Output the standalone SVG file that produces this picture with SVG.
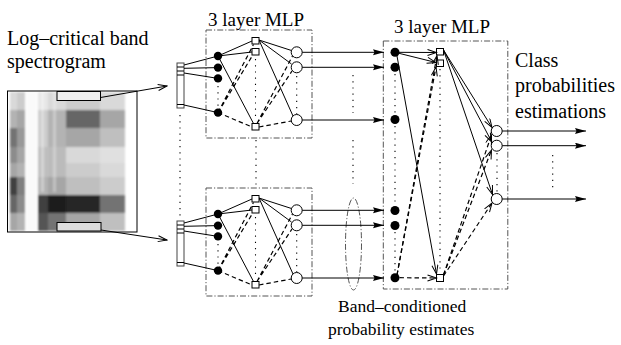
<svg xmlns="http://www.w3.org/2000/svg" xmlns:xlink="http://www.w3.org/1999/xlink" width="621" height="345" viewBox="0 0 621 345">
  <style>
    text { font-family: "Liberation Serif", "Times New Roman", serif; fill: #000; }
    .big { font-size: 20px; }
    .title { font-size: 19px; }
    .small { font-size: 17.5px; }
    .frame { fill: none; stroke: #555; stroke-width: 1; stroke-dasharray: 6 2 1.2 2; }
    .ln { fill: none; stroke: #000; stroke-width: 1; }
    .dsh { fill: none; stroke: #000; stroke-width: 1.2; stroke-dasharray: 4.5 3; }
    .dot { fill: none; stroke: #000; stroke-width: 1.1; stroke-dasharray: 1.2 5; }
    .inp { fill: #000; }
    .hid { fill: #fff; stroke: #000; stroke-width: 1; }
    .out { fill: #fff; stroke: #000; stroke-width: 1; }
    .bar { fill: #fff; stroke: #444; stroke-width: 1; }
  </style>
  <defs>
    <marker id="solidHead" markerUnits="userSpaceOnUse" markerWidth="12" markerHeight="7" refX="11" refY="3" orient="auto">
      <path d="M0,0 L11,3 L0,6 L1.5,3 z" fill="#000"/>
    </marker>
    <marker id="openHead" markerUnits="userSpaceOnUse" markerWidth="11" markerHeight="8" refX="9.5" refY="3.5" orient="auto">
      <path d="M0.5,0.5 L9.5,3.5 L0.5,6.5" fill="none" stroke="#000" stroke-width="1"/>
    </marker>
    <clipPath id="specClip">
      <rect x="8" y="91.5" width="128.5" height="140"/>
    </clipPath>
    <filter id="soft" x="-5%" y="-5%" width="110%" height="110%">
      <feGaussianBlur stdDeviation="1.3"/>
    </filter>
    <!-- first-stage network: one per frequency band -->
    <g id="bandNet">
      <rect class="frame" x="206" y="30" width="106" height="108"/>
      <rect class="bar" x="177" y="63" width="7" height="45"/>
      <path class="ln" d="M177,67H184M177,71H184M177,75H184M177,104.5H184" stroke="#444"/>
      <path class="ln" d="M184,65L218,56M184,68.3L218,67.6M184,73L218,78.4M184,105L218,112.6"/>
      <path class="ln" d="M218,56L252,41M218,56L252,52M218,56L253.5,123.5"/>
      <path class="dsh" d="M218,112.6L253.5,44.5M218,112.6L252.5,55.5M218,112.6L252,127"/>
      <path class="ln" d="M259,40L291.5,50.5M259,40L291.5,64M259,40L293,116"/>
      <path class="dsh" d="M257,123.5L292.5,56M257,123.5L292,71M259,127L291.3,121"/>
      <path class="dot" d="M218,86V106M255.5,59V121M296.7,76V114"/>
      <circle class="inp" cx="218" cy="56" r="4.2"/>
      <circle class="inp" cx="218" cy="67.6" r="4.2"/>
      <circle class="inp" cx="218" cy="78.4" r="4.2"/>
      <circle class="inp" cx="218" cy="112.6" r="4.2"/>
      <rect class="hid" x="252" y="37.5" width="7" height="6.5"/>
      <rect class="hid" x="252" y="48.5" width="7" height="6.5"/>
      <rect class="hid" x="252" y="123.5" width="7" height="6.5"/>
      <circle class="out" cx="296.7" cy="52.3" r="5.5"/>
      <circle class="out" cx="296.7" cy="67.3" r="5.5"/>
      <circle class="out" cx="296.7" cy="120" r="5.5"/>
    </g>
  </defs>

  <!-- labels -->
  <text class="big" x="7" y="45">Log–critical band</text>
  <text class="big" x="7" y="68">spectrogram</text>
  <text class="title" x="208" y="26">3 layer MLP</text>
  <text class="title" x="394" y="33">3 layer MLP</text>
  <text class="big" x="515" y="67">Class</text>
  <text class="big" x="515" y="92">probabilities</text>
  <text class="big" x="515" y="118">estimations</text>
  <text class="small" x="338" y="312">Band–conditioned</text>
  <text class="small" x="328" y="335">probability estimates</text>

  <!-- spectrogram image -->
  <g id="spectrogram">
    <rect x="7.5" y="91" width="129.5" height="141" fill="#fff"/>
    <g clip-path="url(#specClip)">
      <g stroke="none" filter="url(#soft)">
        <!-- column A -->
        <rect x="10" y="92" width="7" height="18" fill="#d9d9d9"/>
        <rect x="10" y="110" width="7" height="18" fill="#b3b3b3"/>
        <rect x="10" y="128" width="7" height="19" fill="#737373"/>
        <rect x="10" y="147" width="7" height="16" fill="#8c8c8c"/>
        <rect x="10" y="163" width="7" height="14" fill="#a6a6a6"/>
        <rect x="10" y="177" width="7" height="18" fill="#404040"/>
        <rect x="10" y="195" width="7" height="18" fill="#666"/>
        <rect x="10" y="213" width="7" height="18" fill="#a6a6a6"/>
        <!-- column B -->
        <rect x="17" y="92" width="8" height="18" fill="#ccc"/>
        <rect x="17" y="110" width="8" height="18" fill="#a6a6a6"/>
        <rect x="17" y="128" width="8" height="19" fill="#999"/>
        <rect x="17" y="147" width="8" height="16" fill="#a6a6a6"/>
        <rect x="17" y="163" width="8" height="14" fill="#b3b3b3"/>
        <rect x="17" y="177" width="8" height="18" fill="#808080"/>
        <rect x="17" y="195" width="8" height="18" fill="#8c8c8c"/>
        <rect x="17" y="213" width="8" height="18" fill="#b3b3b3"/>
        <!-- column C -->
        <rect x="38" y="92" width="10" height="18" fill="#e6e6e6"/>
        <rect x="38" y="110" width="10" height="18" fill="#ccc"/>
        <rect x="38" y="128" width="10" height="19" fill="#ccc"/>
        <rect x="38" y="147" width="10" height="30" fill="#bfbfbf"/>
        <rect x="38" y="177" width="10" height="18" fill="#b3b3b3"/>
        <rect x="38" y="195" width="10" height="18" fill="#404040"/>
        <rect x="38" y="213" width="10" height="18" fill="#555"/>
        <!-- column D -->
        <rect x="48" y="92" width="18" height="18" fill="#d9d9d9"/>
        <rect x="48" y="110" width="18" height="18" fill="#b3b3b3"/>
        <rect x="48" y="128" width="18" height="19" fill="#b3b3b3"/>
        <rect x="48" y="147" width="18" height="30" fill="#bbb"/>
        <rect x="48" y="177" width="18" height="18" fill="#a6a6a6"/>
        <rect x="48" y="195" width="18" height="18" fill="#1a1a1a"/>
        <rect x="48" y="213" width="18" height="18" fill="#737373"/>
        <!-- lighter vertical streaks -->
        <rect x="41" y="92" width="3" height="100" fill="#fff" opacity="0.35"/>
        <rect x="53" y="92" width="3" height="100" fill="#fff" opacity="0.3"/>
        <!-- column E -->
        <rect x="66" y="92" width="34" height="18" fill="#ccc"/>
        <rect x="66" y="110" width="34" height="18" fill="#666"/>
        <rect x="66" y="128" width="34" height="19" fill="#a6a6a6"/>
        <rect x="66" y="147" width="34" height="16" fill="#d9d9d9"/>
        <rect x="66" y="163" width="34" height="14" fill="#ccc"/>
        <rect x="66" y="177" width="34" height="18" fill="#bfbfbf"/>
        <rect x="66" y="195" width="34" height="18" fill="#262626"/>
        <rect x="66" y="213" width="34" height="18" fill="#a6a6a6"/>
        <!-- column F -->
        <rect x="100" y="92" width="25" height="18" fill="#d9d9d9"/>
        <rect x="100" y="110" width="25" height="18" fill="#a6a6a6"/>
        <rect x="100" y="128" width="25" height="19" fill="#bfbfbf"/>
        <rect x="100" y="147" width="25" height="16" fill="#e0e0e0"/>
        <rect x="100" y="163" width="25" height="14" fill="#d9d9d9"/>
        <rect x="100" y="177" width="25" height="18" fill="#ccc"/>
        <rect x="100" y="195" width="25" height="18" fill="#737373"/>
        <rect x="100" y="213" width="25" height="18" fill="#bfbfbf"/>
        <!-- pale stripe -->
        <rect x="26" y="92" width="11" height="139" fill="#fafafa"/>
      </g>
    </g>
    <rect x="7.5" y="91" width="129.5" height="141" fill="none" stroke="#000" stroke-width="1"/>
    <rect x="57" y="91.5" width="43.5" height="9" fill="#eee" stroke="#000" stroke-width="1"/>
    <rect x="57" y="222.5" width="44" height="8.5" fill="#ddd" stroke="#000" stroke-width="1"/>
  </g>

  <!-- first-stage band networks -->
  <g id="band-net-top"><use xlink:href="#bandNet" href="#bandNet"/></g>
  <g id="band-net-bottom"><use xlink:href="#bandNet" href="#bandNet" y="158"/></g>

  <!-- merger network -->
  <g id="merger-net">
    <rect class="frame" x="383.3" y="41" width="124.5" height="248"/>
    <path class="dot" d="M395,74V114M395,126V204M395,232V271M440,69V272"/>
    <circle class="inp" cx="395" cy="52.3" r="4.5"/>
    <circle class="inp" cx="395" cy="67.3" r="4.5"/>
    <circle class="inp" cx="395" cy="119.5" r="4.5"/>
    <circle class="inp" cx="395" cy="210.5" r="4.5"/>
    <circle class="inp" cx="395" cy="225.5" r="4.5"/>
    <circle class="inp" cx="395" cy="277.7" r="4.5"/>
    <rect class="hid" x="436.5" y="48.5" width="7" height="6.5"/>
    <rect class="hid" x="436.5" y="60" width="7" height="6.5"/>
    <rect class="hid" x="436.5" y="274.5" width="7" height="7"/>
  </g>

  <!-- class outputs -->
  <g id="class-outputs">
    <path class="dot" d="M497,153V192"/>
    <circle class="out" cx="496.7" cy="131" r="5.5"/>
    <circle class="out" cx="496.7" cy="145.7" r="5.5"/>
    <circle class="out" cx="496.7" cy="199" r="5.5"/>
  </g>

  <!-- band-conditioned estimates grouping -->
  <g id="band-estimates">
    <ellipse class="frame" cx="353.5" cy="244" rx="8" ry="46"/>
  </g>

  <g id="connectors">
    <!-- band selections -->
    <path class="ln" d="M100.5,97.5L167,86" marker-end="url(#openHead)"/>
    <path class="ln" d="M101,230L167,240" marker-end="url(#openHead)"/>
    <!-- continuation dots between bands -->
    <path class="dot" d="M180,115V217M256,140V186M353,75V113M353,140V184"/>
    <!-- band outputs into merger -->
    <g class="ln" marker-end="url(#solidHead)">
      <path d="M302.2,52.3H384"/>
      <path d="M302.2,67.3H384"/>
      <path d="M302.2,120H384"/>
      <path d="M302.2,210.3H384"/>
      <path d="M302.2,225.3H384"/>
      <path d="M302.2,278H384"/>
    </g>
    <!-- merger input to hidden -->
    <g class="ln" marker-end="url(#openHead)">
      <path d="M395,52.3L436.5,52.5"/>
      <path d="M395,52.3L436,62.5"/>
      <path d="M397,56L436.5,274"/>
    </g>
    <g class="dsh" marker-end="url(#openHead)">
      <path d="M397,275L437,55.5"/>
      <path d="M397,275L436,67"/>
      <path d="M399.5,277.7L436.5,278"/>
    </g>
    <!-- merger hidden to outputs -->
    <g class="ln" marker-end="url(#openHead)">
      <path d="M443.5,50L492,127.5"/>
      <path d="M443.5,50L491.8,142"/>
      <path d="M443.5,50L492.5,194.5"/>
    </g>
    <g class="dsh" marker-end="url(#openHead)">
      <path d="M443.5,275L491.5,135"/>
      <path d="M443.5,275L491.5,150"/>
      <path d="M443.5,276L492,203"/>
    </g>
    <!-- class probability outputs -->
    <g class="ln" marker-end="url(#solidHead)">
      <path d="M502.2,131H586"/>
      <path d="M502.2,145.7H586"/>
      <path d="M502.2,199H586"/>
    </g>
    <path class="dot" d="M552.7,155V192"/>
  </g>
</svg>
